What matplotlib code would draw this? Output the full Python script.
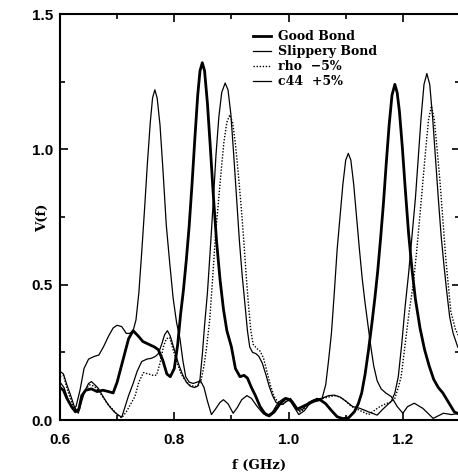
# V(f) spectra for bonded layers: good bond vs slippery bond and two perturbations

import matplotlib
matplotlib.use("Agg")
import matplotlib.pyplot as plt
from matplotlib.ticker import MultipleLocator

# Good Bond (thick)
f_good = [0.600, 0.606, 0.612, 0.620, 0.627, 0.633, 0.638, 0.645, 0.655, 0.665,
          0.675, 0.685, 0.693, 0.700, 0.710, 0.720, 0.728, 0.737, 0.745, 0.755,
          0.765, 0.772, 0.780, 0.787, 0.793, 0.800, 0.806, 0.811, 0.816, 0.821,
          0.826, 0.831, 0.836, 0.841, 0.845, 0.849, 0.853, 0.858, 0.863, 0.868,
          0.874, 0.880, 0.886, 0.892, 0.900, 0.907, 0.915, 0.922, 0.928, 0.935,
          0.942, 0.950, 0.958, 0.966, 0.975, 0.985, 0.995, 1.005, 1.015, 1.025,
          1.035, 1.045, 1.055, 1.065, 1.075, 1.085, 1.095, 1.105, 1.115, 1.122,
          1.128, 1.134, 1.140, 1.146, 1.151, 1.156, 1.161, 1.166, 1.171, 1.176,
          1.181, 1.186, 1.190, 1.194, 1.199, 1.204, 1.210, 1.216, 1.222, 1.230,
          1.238, 1.246, 1.254, 1.262, 1.270, 1.280, 1.290, 1.300]
v_good = [0.12, 0.11, 0.08, 0.05, 0.03, 0.04, 0.09, 0.11, 0.115, 0.105,
          0.11, 0.105, 0.10, 0.14, 0.22, 0.30, 0.33, 0.31, 0.29, 0.28,
          0.27, 0.26, 0.22, 0.17, 0.16, 0.19, 0.28, 0.39, 0.48, 0.59,
          0.715, 0.87, 1.04, 1.20, 1.29, 1.32, 1.29, 1.17, 1.01, 0.84,
          0.66, 0.52, 0.41, 0.33, 0.27, 0.19, 0.16, 0.165, 0.155, 0.12,
          0.09, 0.05, 0.025, 0.015, 0.03, 0.06, 0.08, 0.07, 0.04, 0.05,
          0.06, 0.07, 0.075, 0.06, 0.035, 0.012, 0.005, 0.008, 0.03, 0.06,
          0.10, 0.17, 0.26, 0.36, 0.45, 0.55, 0.67, 0.80, 0.95, 1.09,
          1.20, 1.24, 1.21, 1.14, 1.01, 0.86, 0.69, 0.556, 0.446, 0.34,
          0.26, 0.20, 0.15, 0.12, 0.10, 0.065, 0.03, 0.02]

# Slippery Bond (thin)
f_slip = [0.600, 0.607, 0.615, 0.622, 0.628, 0.635, 0.642, 0.650, 0.660, 0.668,
          0.676, 0.685, 0.693, 0.700, 0.708, 0.716, 0.722, 0.728, 0.733, 0.738,
          0.743, 0.748, 0.753, 0.758, 0.762, 0.766, 0.770, 0.775, 0.780, 0.786,
          0.792, 0.798, 0.804, 0.810, 0.815, 0.820, 0.826, 0.833, 0.840, 0.846,
          0.852, 0.858, 0.865, 0.872, 0.880, 0.886, 0.894, 0.903, 0.910, 0.918,
          0.927, 0.935, 0.945, 0.955, 0.962, 0.972, 0.982, 0.992, 1.000, 1.009,
          1.018, 1.028, 1.040, 1.050, 1.058, 1.065, 1.070, 1.075, 1.080, 1.085,
          1.090, 1.095, 1.100, 1.1045, 1.109, 1.114, 1.119, 1.124, 1.129, 1.134,
          1.139, 1.144, 1.149, 1.155, 1.162, 1.170, 1.180, 1.190, 1.200, 1.208,
          1.220, 1.235, 1.253, 1.271, 1.285, 1.300]
v_slip = [0.14, 0.12, 0.07, 0.04, 0.05, 0.11, 0.19, 0.225, 0.235, 0.24,
          0.27, 0.31, 0.34, 0.35, 0.345, 0.32, 0.32, 0.33, 0.37, 0.47,
          0.62, 0.78, 0.95, 1.10, 1.19, 1.22, 1.19, 1.09, 0.93, 0.72,
          0.58, 0.45, 0.36, 0.30, 0.22, 0.16, 0.14, 0.135, 0.14, 0.145,
          0.12, 0.07, 0.02, 0.04, 0.065, 0.075, 0.06, 0.025, 0.045, 0.075,
          0.09, 0.08, 0.05, 0.025, 0.015, 0.03, 0.065, 0.08, 0.08, 0.05,
          0.02, 0.035, 0.07, 0.08, 0.075, 0.13, 0.22, 0.32, 0.47, 0.63,
          0.75, 0.87, 0.96, 0.985, 0.96, 0.87, 0.75, 0.63, 0.52, 0.43,
          0.35, 0.27, 0.20, 0.145, 0.115, 0.10, 0.086, 0.05, 0.025, 0.049,
          0.062, 0.043, 0.006, 0.025, 0.02, 0.025]

# rho -5% (dotted)
f_rho = [0.600, 0.606, 0.612, 0.618, 0.625, 0.632, 0.638, 0.644, 0.652, 0.660,
         0.667, 0.675, 0.683, 0.692, 0.700, 0.708, 0.716, 0.724, 0.731, 0.738,
         0.746, 0.755, 0.763, 0.769, 0.775, 0.781, 0.786, 0.792, 0.798, 0.805,
         0.812, 0.818, 0.826, 0.836, 0.843, 0.847, 0.852, 0.856, 0.862, 0.867,
         0.872, 0.877, 0.882, 0.887, 0.892, 0.897, 0.902, 0.907, 0.912, 0.917,
         0.921, 0.926, 0.930, 0.934, 0.938, 0.944, 0.950, 0.956, 0.962, 0.968,
         0.974, 0.980, 0.988, 0.996, 1.004, 1.012, 1.020, 1.030, 1.040, 1.050,
         1.060, 1.070, 1.080, 1.090, 1.100, 1.110, 1.120, 1.130, 1.140, 1.150,
         1.160, 1.170, 1.178, 1.186, 1.192, 1.197, 1.204, 1.211, 1.218, 1.224,
         1.230, 1.235, 1.240, 1.245, 1.250, 1.255, 1.260, 1.265, 1.270, 1.275,
         1.279, 1.284, 1.292, 1.300]
v_rho = [0.16, 0.165, 0.12, 0.08, 0.04, 0.03, 0.08, 0.11, 0.13, 0.125,
         0.11, 0.085, 0.06, 0.04, 0.02, 0.008, 0.03, 0.06, 0.086, 0.14,
         0.175, 0.17, 0.165, 0.166, 0.21, 0.27, 0.30, 0.305, 0.26, 0.21,
         0.17, 0.15, 0.13, 0.123, 0.13, 0.148, 0.20, 0.26, 0.37, 0.52,
         0.68, 0.80, 0.92, 1.03, 1.10, 1.127, 1.10, 1.02, 0.91, 0.79,
         0.68, 0.53, 0.42, 0.33, 0.28, 0.265, 0.255, 0.23, 0.18, 0.13,
         0.09, 0.07, 0.055, 0.07, 0.075, 0.05, 0.03, 0.045, 0.065, 0.075,
         0.08, 0.085, 0.09, 0.085, 0.07, 0.05, 0.04, 0.03, 0.02, 0.035,
         0.05, 0.06, 0.065, 0.08, 0.12, 0.16, 0.28, 0.40, 0.50, 0.62,
         0.76, 0.88, 1.00, 1.11, 1.16, 1.11, 1.00, 0.88, 0.74, 0.60,
         0.51, 0.40, 0.335, 0.30]

# c44 +5% (thin)
f_c44 = [0.600, 0.606, 0.612, 0.618, 0.625, 0.632, 0.638, 0.644, 0.650, 0.655,
         0.661, 0.667, 0.673, 0.679, 0.687, 0.695, 0.701, 0.708, 0.714, 0.720,
         0.728, 0.735, 0.743, 0.752, 0.760, 0.767, 0.772, 0.778, 0.783, 0.788,
         0.793, 0.800, 0.807, 0.814, 0.821, 0.828, 0.835, 0.841, 0.845, 0.849,
         0.853, 0.858, 0.863, 0.868, 0.873, 0.878, 0.883, 0.889, 0.894, 0.899,
         0.904, 0.909, 0.914, 0.919, 0.924, 0.928, 0.932, 0.937, 0.943, 0.948,
         0.954, 0.960, 0.966, 0.972, 0.978, 0.985, 0.990, 0.997, 1.003, 1.010,
         1.018, 1.025, 1.035, 1.045, 1.058, 1.070, 1.080, 1.090, 1.100, 1.112,
         1.125, 1.140, 1.155, 1.165, 1.175, 1.180, 1.186, 1.192, 1.198, 1.204,
         1.210, 1.216, 1.222, 1.227, 1.232, 1.237, 1.242, 1.247, 1.252, 1.257,
         1.262, 1.267, 1.272, 1.277, 1.282, 1.288, 1.296, 1.300]
v_c44 = [0.18, 0.17, 0.13, 0.095, 0.05, 0.025, 0.07, 0.11, 0.135, 0.142,
         0.13, 0.117, 0.095, 0.074, 0.049, 0.03, 0.02, 0.01, 0.05, 0.09,
         0.135, 0.18, 0.216, 0.225, 0.228, 0.235, 0.245, 0.28, 0.315, 0.33,
         0.31, 0.26, 0.21, 0.17, 0.14, 0.125, 0.12, 0.125, 0.15, 0.24,
         0.35, 0.47, 0.63, 0.80, 0.98, 1.12, 1.21, 1.245, 1.22, 1.13,
         0.98, 0.82, 0.66, 0.53, 0.42, 0.33, 0.27, 0.25, 0.245, 0.235,
         0.21, 0.17, 0.125, 0.09, 0.065, 0.058, 0.058, 0.07, 0.08, 0.06,
         0.035, 0.04, 0.065, 0.075, 0.08, 0.09, 0.092, 0.085, 0.07, 0.05,
         0.043, 0.03, 0.018, 0.04, 0.06, 0.07, 0.10, 0.16, 0.28, 0.42,
         0.54, 0.68, 0.82, 0.97, 1.12, 1.24, 1.28, 1.24, 1.12, 0.97,
         0.82, 0.68, 0.57, 0.47, 0.38, 0.32, 0.27, 0.26]

serif = ["DejaVu Serif"]
sans = ["Liberation Sans", "DejaVu Sans"]

fig = plt.figure(figsize=(4.58, 4.76), dpi=100)
ax = fig.add_axes([60/458, 1 - 420/476, 400/458, 406/476])

ax.plot(f_good, v_good, color="black", lw=2.0, label="Good Bond")
ax.plot(f_slip, v_slip, color="black", lw=0.9, label="Slippery Bond")
ax.plot(f_rho, v_rho, color="black", lw=1.0, ls=(0, (1, 1.2)), label="rho  \u22125%")
ax.plot(f_c44, v_c44, color="black", lw=0.9, label="c44  +5%")

ax.set_xlim(0.6, 1.3)
ax.set_ylim(0.0, 1.5)
ax.xaxis.set_minor_locator(MultipleLocator(0.1))
ax.yaxis.set_minor_locator(MultipleLocator(0.25))
ax.set_xticks([0.6, 0.8, 1.0, 1.2])
ax.set_xticklabels(["0.6", "0.8", "1.0", "1.2"])
ax.set_yticks([0.0, 0.5, 1.0, 1.5])
ax.set_yticklabels(["0.0", "0.5", "1.0", "1.5"])
ax.tick_params(which="both", direction="in", top=True, right=True, width=1.2)
ax.tick_params(which="major", length=6)
ax.tick_params(which="minor", length=3.5)
ax.tick_params(axis="x", which="major", pad=9)
ax.tick_params(axis="y", which="major", pad=5)
for lab in ax.get_xticklabels() + ax.get_yticklabels():
    lab.set_family(sans)
    lab.set_fontweight("bold")
    lab.set_fontsize(11)
for sp in ax.spines.values():
    sp.set_linewidth(1.5)

ax.set_xlabel("f (GHz)", family=serif, fontweight="bold", fontsize=9.5, va="center")
ax.set_ylabel("V(f)", family=serif, fontweight="bold", fontsize=9.5, va="center")
ax.xaxis.set_label_coords(0.497, -0.113)
ax.yaxis.set_label_coords(-0.043, 0.4975)

leg = ax.legend(loc="upper left", bbox_to_anchor=(0.47, 0.972), frameon=False,
                handlelength=1.4, handletextpad=0.6, labelspacing=0.15,
                borderaxespad=0.0, prop={"family": serif, "weight": "bold", "size": 9})

fig.savefig("out.png", dpi=100)
